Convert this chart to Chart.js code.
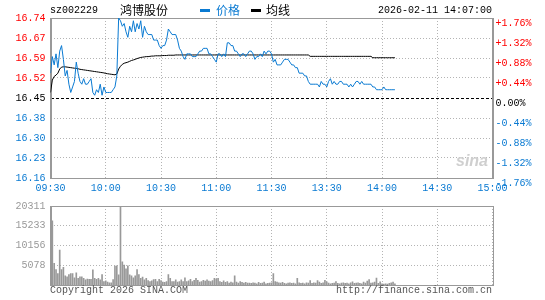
<!DOCTYPE html>
<html>
<head>
<meta charset="utf-8">
<script src="https://cdn.jsdelivr.net/npm/chart.js@4.4.1/dist/chart.umd.min.js"></script>
<style>
  body { margin: 0; background: #fff; width: 545px; height: 300px; position: relative; overflow: hidden;
         font-family: "Liberation Mono", monospace; font-size: 10px; }
  canvas { position: absolute; left: 0; }
  #price { top: 0; }
  #vol { top: 195px; }
  .t { position: absolute; white-space: nowrap; line-height: 12px; }
  .cjk { font-family: "Noto Sans CJK SC", sans-serif; font-size: 12px; line-height: 14px; }
  .dash { position: absolute; width: 10px; height: 3px; }
</style>
</head>
<body>
<canvas id="price" width="545" height="200"></canvas>
<canvas id="vol" width="545" height="105"></canvas>

<div class="t" id="code" style="left:50px;top:5px"></div>
<div class="t cjk" id="name" style="left:120px;top:3px"></div>
<div class="dash" style="left:200px;top:9px;background:#0a7ad2"></div>
<div class="t cjk" id="lg1" style="left:216px;top:3px;color:#0a7ad2"></div>
<div class="dash" style="left:251px;top:9px;background:#000"></div>
<div class="t cjk" id="lg2" style="left:266px;top:3px"></div>
<div class="t" id="time" style="right:53px;top:5px"></div>
<div class="t" style="left:456px;top:152px;font:italic bold 16px 'Liberation Sans',sans-serif;color:#cfcfcf">sina</div>
<div class="t" style="left:50px;top:285px;color:#555">Copyright 2026 SINA.COM</div>
<div class="t" style="right:53px;top:285px;color:#555">http://finance.sina.com.cn</div>

<script>
const stockCode = "sz002229";
const stockName = "鸿博股份";
const quoteTime = "2026-02-11 14:07:00";
const seriesNames = ["价格", "均线"];
const prevClose = 16.45;

const timeLabels = ["09:30", "10:00", "10:30", "11:00", "11:30", "13:30", "14:00", "14:30", "15:00"];
const priceLabels = ["16.16", "16.23", "16.30", "16.38", "16.45", "16.52", "16.59", "16.67", "16.74"];
const pctLabels = ["-1.76%", "-1.32%", "-0.88%", "-0.44%", "0.00%", "+0.44%", "+0.88%", "+1.32%", "+1.76%"];
const volumeLabels = ["", "5078", "10156", "15233", "20311"];

// one value per trading minute from 09:30 (index 0) to 14:07
const prices = [
  16.54,16.60,16.57,16.61,16.56,16.62,16.64,16.59,16.53,16.55,
  16.50,16.47,16.49,16.51,16.58,16.54,16.51,16.50,16.52,16.50,
  16.50,16.51,16.52,16.47,16.46,16.48,16.47,16.50,16.46,16.49,
  16.47,16.47,16.47,16.47,16.48,16.49,16.53,16.74,16.73,16.71,
  16.72,16.69,16.67,16.71,16.69,16.73,16.69,16.72,16.70,16.73,
  16.67,16.71,16.69,16.68,16.68,16.68,16.66,16.66,16.66,16.64,
  16.63,16.64,16.64,16.66,16.70,16.69,16.68,16.68,16.68,16.66,
  16.63,16.62,16.60,16.59,16.61,16.61,16.61,16.60,16.60,16.60,
  16.61,16.62,16.62,16.63,16.63,16.63,16.61,16.61,16.60,16.59,
  16.58,16.61,16.61,16.60,16.61,16.60,16.65,16.65,16.64,16.64,
  16.62,16.62,16.61,16.60,16.61,16.61,16.60,16.61,16.62,16.62,
  16.61,16.59,16.60,16.60,16.61,16.60,16.62,16.61,16.62,16.62,
  16.61,16.58,16.59,16.57,16.57,16.57,16.58,16.59,16.59,16.59,
  16.58,16.57,16.57,16.56,16.56,16.54,16.54,16.54,16.53,16.53,
  16.51,16.50,16.50,16.50,16.50,16.50,16.49,16.51,16.50,16.50,
  16.49,16.51,16.52,16.50,16.51,16.50,16.50,16.51,16.51,16.50,
  16.50,16.50,16.49,16.50,16.49,16.50,16.51,16.51,16.50,16.51,
  16.50,16.50,16.50,16.50,16.50,16.49,16.49,16.48,16.48,16.48,
  16.48,16.49,16.48,16.48,16.48,16.48,16.48,16.48
];

const avgPrices = [
  16.470,16.515,16.528,16.533,16.540,16.555,16.562,16.563,16.563,16.562,
  16.561,16.560,16.559,16.558,16.557,16.556,16.554,16.553,16.552,16.551,
  16.550,16.549,16.548,16.547,16.546,16.545,16.544,16.543,16.542,16.541,
  16.539,16.538,16.537,16.536,16.535,16.534,16.537,16.555,16.565,16.572,
  16.576,16.578,16.580,16.583,16.586,16.588,16.590,16.593,16.595,16.597,
  16.598,16.599,16.600,16.600,16.601,16.602,16.602,16.603,16.603,16.603,
  16.603,16.604,16.604,16.604,16.605,16.605,16.605,16.605,16.606,16.606,
  16.606,16.606,16.606,16.606,16.606,16.606,16.606,16.606,16.606,16.606,
  16.606,16.606,16.606,16.606,16.606,16.606,16.606,16.606,16.606,16.606,
  16.606,16.606,16.606,16.606,16.606,16.606,16.606,16.606,16.606,16.606,
  16.606,16.606,16.606,16.606,16.606,16.606,16.606,16.606,16.606,16.606,
  16.606,16.606,16.606,16.606,16.606,16.606,16.606,16.606,16.606,16.606,
  16.606,16.606,16.606,16.606,16.606,16.606,16.606,16.606,16.606,16.606,
  16.606,16.606,16.606,16.606,16.606,16.606,16.606,16.606,16.606,16.606,
  16.606,16.601,16.601,16.601,16.601,16.601,16.601,16.601,16.601,16.601,
  16.601,16.601,16.601,16.601,16.601,16.601,16.601,16.601,16.601,16.601,
  16.601,16.601,16.601,16.601,16.601,16.601,16.601,16.601,16.601,16.601,
  16.601,16.601,16.601,16.601,16.601,16.596,16.596,16.596,16.596,16.596,
  16.596,16.596,16.596,16.596,16.596,16.596,16.596,16.596
];

const volumes = [
  6850,16520,5640,4030,2980,9030,4030,4590,2420,2180,
  2740,2980,2980,1930,3220,1770,2180,2180,1770,1370,
  1610,1530,1530,3950,1770,1530,1770,1370,2740,970,
  1130,810,640,640,1450,4900,5000,2700,20311,6000,
  5200,4200,5000,2700,2400,1930,2420,4030,2740,1770,
  2100,1370,1770,1210,970,1130,1450,1530,970,1530,
  1210,810,730,970,2740,1770,970,970,1370,810,
  970,1370,970,1930,970,1130,1530,970,1290,1770,
  1290,810,970,1290,1050,1370,1050,970,1210,1770,
  1610,1770,970,730,1130,730,970,560,810,640,
  2420,810,560,970,730,560,730,560,560,480,
  650,560,400,730,480,560,810,400,480,560,
  640,3000,980,800,650,560,730,480,400,560,
  650,480,560,400,1800,650,480,560,400,650,
  560,1230,480,650,560,1230,800,480,650,1300,
  900,560,400,480,560,980,480,400,560,650,
  480,560,400,650,900,480,560,650,480,400,
  800,560,1100,1470,560,650,800,1880,480,900,
  400,320,400,320,480,650,800,400
];

document.getElementById("code").textContent = stockCode;
document.getElementById("name").textContent = stockName;
document.getElementById("lg1").textContent = seriesNames[0];
document.getElementById("lg2").textContent = seriesNames[1];
document.getElementById("time").textContent = quoteTime;

const BLUE = "#0a7ad2";
const RED = "#ff0000";
const GRID = "#b4b4b4";
const FRAME = "#999999";
const monoFont = { family: "Liberation Mono", size: 10 };
const totalMinutes = (timeLabels.length - 1) * 30;

// grey box round the plot area
const framePlugin = {
  id: "frame",
  beforeDatasetsDraw(chart) {
    const { ctx, chartArea: a } = chart;
    ctx.save();
    ctx.strokeStyle = FRAME;
    ctx.lineWidth = 1;
    ctx.strokeRect(Math.round(a.left) + 0.5, Math.round(a.top) + 0.5,
      Math.round(a.right - a.left), Math.round(a.bottom - a.top));
    ctx.restore();
  }
};

function evenTicks(min, max, n) {
  return axis => {
    axis.ticks = [];
    for (let i = 0; i < n; i++) axis.ticks.push({ value: min + (max - min) * i / (n - 1) });
  };
}

const pMin = Number(priceLabels[0]);
const pMax = Number(priceLabels[priceLabels.length - 1]);
const labelColor = ctx => ctx.index > 4 ? RED : (ctx.index === 4 ? "#000" : BLUE);

new Chart(document.getElementById("price"), {
  type: "line",
  data: {
    datasets: [
      {
        label: seriesNames[0],
        data: prices.map((p, i) => ({ x: i, y: p })),
        borderColor: BLUE,
        borderWidth: 1,
        pointRadius: 0,
        tension: 0,
      },
      {
        label: seriesNames[1],
        data: avgPrices.map((p, i) => ({ x: i, y: p })),
        borderColor: "#000",
        borderWidth: 1,
        pointRadius: 0,
        tension: 0,
      },
    ],
  },
  plugins: [framePlugin],
  options: {
    responsive: false,
    animation: false,
    devicePixelRatio: 1,
    layout: { padding: { top: 18, left: 0, right: 0, bottom: 0 } },
    plugins: { legend: { display: false }, tooltip: { enabled: false } },
    scales: {
      x: {
        type: "linear",
        min: 0,
        max: totalMinutes,
        afterBuildTicks: axis => { axis.ticks = timeLabels.map((t, i) => ({ value: i * 30 })); },
        afterFit: axis => { axis.height = 22; },
        ticks: {
          callback: (v, i) => timeLabels[i],
          color: BLUE,
          font: monoFont,
          maxRotation: 0,
          autoSkip: false,
          padding: 4,
        },
        grid: { color: GRID, drawTicks: false },
        border: { color: FRAME, dash: [1, 2] },
      },
      y: {
        position: "left",
        min: pMin,
        max: pMax,
        afterBuildTicks: evenTicks(pMin, pMax, priceLabels.length),
        afterFit: axis => { axis.width = 50.5; },
        ticks: {
          callback: (v, i) => priceLabels[i],
          color: labelColor,
          font: monoFont,
          padding: 5,
        },
        grid: {
          color: ctx => ctx.index === 4 ? "#000" : GRID,
          drawTicks: false,
        },
        border: { color: FRAME, dash: ctx => ctx.index === 4 ? [3, 2] : [1, 2] },
      },
      y2: {
        position: "right",
        min: pMin,
        max: pMax,
        afterBuildTicks: evenTicks(pMin, pMax, pctLabels.length),
        afterFit: axis => { axis.width = 52.5; },
        ticks: {
          callback: (v, i) => pctLabels[i],
          color: labelColor,
          font: monoFont,
          padding: 3,
          align: "start",
        },
        grid: { display: false, drawTicks: false },
        border: { color: FRAME },
      },
    },
  },
});

const vMax = Number(volumeLabels[volumeLabels.length - 1]);

new Chart(document.getElementById("vol"), {
  type: "bar",
  data: {
    datasets: [
      {
        label: "成交量",
        data: volumes.map((v, i) => ({ x: i, y: v })),
        backgroundColor: "#999999",
        barThickness: 1,
      },
    ],
  },
  plugins: [framePlugin],
  options: {
    responsive: false,
    animation: false,
    devicePixelRatio: 1,
    layout: { padding: { top: 6.3, left: 0, right: 52.5, bottom: 0 } },
    plugins: { legend: { display: false }, tooltip: { enabled: false } },
    scales: {
      x: {
        type: "linear",
        min: 0,
        max: totalMinutes,
        offset: false,
        afterBuildTicks: axis => { axis.ticks = timeLabels.map((t, i) => ({ value: i * 30 })); },
        afterFit: axis => { axis.height = 14.7; },
        ticks: { display: false },
        grid: { color: GRID, drawTicks: false, offset: false },
        border: { color: FRAME, dash: [1, 2] },
      },
      y: {
        position: "left",
        min: 0,
        max: vMax,
        afterBuildTicks: evenTicks(0, vMax, volumeLabels.length),
        afterFit: axis => { axis.width = 50.5; },
        ticks: {
          callback: (v, i) => volumeLabels[i],
          color: "#999999",
          font: monoFont,
          padding: 5,
        },
        grid: { color: GRID, drawTicks: false },
        border: { color: FRAME, dash: [1, 2] },
      },
    },
  },
});
</script>
</body>
</html>
